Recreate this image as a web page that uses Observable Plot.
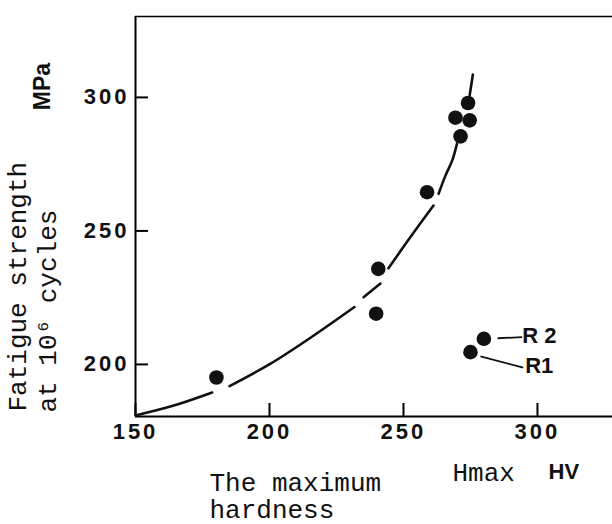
<!DOCTYPE html>
<html><head><meta charset="utf-8">
<script src="https://cdn.jsdelivr.net/npm/d3@7"></script>
<script src="https://cdn.jsdelivr.net/npm/@observablehq/plot@0.6"></script>
<style>
body{margin:0;background:#fff;}
svg{display:block}
svg g[aria-label="y-axis tick label"] text,
svg g[aria-label="x-axis tick label"] text{
  font-family:"Liberation Sans",Arial,sans-serif;font-weight:bold;font-size:22px;letter-spacing:3px}
</style></head><body><div id="chart"></div>
<script>
// measured specimens (HV, MPa)
const hardness = [180.2, 239.8, 240.6, 258.8, 271.3, 269.4, 274.7, 274.1];
const fatigue  = [195.1, 219.0, 235.8, 264.5, 285.4, 292.4, 291.4, 297.9];
// labelled specimens
const rNames    = ["R1", "R 2"];
const rHardness = [275.0, 280.0];
const rFatigue  = [204.6, 209.6];
// label anchor & leader ends (data units)
const rLabelX = [295.4, 294.3];
const rLabelY = [199.3, 210.5];
const leadX1 = [278.7, 285.1], leadY1 = [203.0, 209.8];
const leadX2 = [294.7, 294.3], leadY2 = [198.8, 210.2];
// hand-drawn trend curve (broken into pieces)
const curveSeg = [1,1,1, 2,2,2,2, 3,3, 4,4,4, 5,5,5,5, 6,6];
const curveX = [150.0,164.3,178.6, 185.1,200.4,215.3,231.7, 235.1,241.4, 244.4,252.6,261.2, 263.1,265.7,268.2,270.0, 274.7,275.9];
const curveY = [180.9,184.6,189.5, 191.9,200.3,210.0,221.5, 225.2,230.3, 236.0,247.7,259.5, 263.9,270.8,276.4,282.8, 300.8,308.6];
// axes
const xTicks = [150, 200, 250, 300];
const yTicks = [200, 250, 300];
const xDomain = [150, 328];
const yDomain = [180.5, 330.3];

const pts = hardness.map((h, i) => ({h, f: fatigue[i]}));
const rPts = rNames.map((n, i) => ({n, h: rHardness[i], f: rFatigue[i], lx: rLabelX[i], ly: rLabelY[i],
  x1: leadX1[i], y1: leadY1[i], x2: leadX2[i], y2: leadY2[i]}));
const curve = curveX.map((x, i) => ({x, y: curveY[i], s: curveSeg[i]}));

const sans = "Liberation Sans, Arial, Helvetica, sans-serif";
const mono = "Liberation Mono, Courier New, monospace";

const chart = Plot.plot({
  width: 612, height: 524,
  marginLeft: 135, marginRight: 0, marginTop: 16, marginBottom: 108,
  x: {domain: xDomain},
  y: {domain: yDomain},
  marks: [
    Plot.ruleX([xDomain[0]], {strokeWidth: 2}),
    Plot.ruleY([yDomain[0]], {strokeWidth: 2}),
    Plot.ruleY([yDomain[1]], {strokeWidth: 1.6}),
    Plot.axisX({ticks: xTicks, tickSize: -13, tickPadding: 20, strokeWidth: 2, label: null,
      fontFamily: sans, fontWeight: "bold", fontSize: 22, fill: "#111"}),
    Plot.axisY({ticks: yTicks, tickSize: -13, tickPadding: 19, strokeWidth: 2, label: null,
      fontFamily: sans, fontWeight: "bold", fontSize: 22, fill: "#111"}),
    Plot.line(curve, {x: "x", y: "y", z: "s", curve: "catmull-rom", strokeWidth: 2.6, stroke: "#111"}),
    Plot.dot(pts, {x: "h", y: "f", r: 7.3, fill: "#111", stroke: "none"}),
    Plot.dot(rPts, {x: "h", y: "f", r: 7.3, fill: "#111", stroke: "none"}),
    Plot.link(rPts, {x1: "x1", y1: "y1", x2: "x2", y2: "y2", strokeWidth: 1.8, stroke: "#111"}),
    Plot.text(rPts, {x: "lx", y: "ly", text: "n", textAnchor: "start", lineAnchor: "middle",
      fontFamily: sans, fontWeight: "bold", fontSize: 22, fill: "#111"}),
    // axis titles
    Plot.text(["Fatigue strength"], {frameAnchor: "bottom-left", text: d => d, rotate: -90,
      textAnchor: "start", lineAnchor: "bottom", dx: -110, dy: -5,
      fontFamily: mono, fontSize: 26, fill: "#111"}),
    Plot.text(["at 10\u2076 cycles"], {frameAnchor: "bottom-left", text: d => d, rotate: -90,
      textAnchor: "start", lineAnchor: "bottom", dx: -79.5, dy: -4,
      fontFamily: mono, fontSize: 26, fill: "#111"}),
    Plot.text(["MPa"], {frameAnchor: "top-left", text: d => d, rotate: -90,
      textAnchor: "middle", lineAnchor: "middle", dx: -93, dy: 70,
      fontFamily: sans, fontWeight: "bold", fontSize: 23, fill: "#111"}),
    Plot.text(["The maximum"], {frameAnchor: "bottom-left", text: d => d,
      textAnchor: "start", lineAnchor: "bottom", dx: 74, dy: 74,
      fontFamily: mono, fontSize: 26, fill: "#111", style: "letter-spacing:1.3px"}),
    Plot.text(["hardness"], {frameAnchor: "bottom-left", text: d => d,
      textAnchor: "start", lineAnchor: "bottom", dx: 74, dy: 101,
      fontFamily: mono, fontSize: 26, fill: "#111"}),
    Plot.text(["Hmax"], {frameAnchor: "bottom-left", text: d => d,
      textAnchor: "start", lineAnchor: "bottom", dx: 317, dy: 64,
      fontFamily: mono, fontSize: 26, fill: "#111"}),
    Plot.text(["HV"], {frameAnchor: "bottom-left", text: d => d,
      textAnchor: "start", lineAnchor: "bottom", dx: 413, dy: 62,
      fontFamily: sans, fontWeight: "bold", fontSize: 22, fill: "#111"})
  ]
});
document.getElementById("chart").appendChild(chart);
</script>
</body></html>
